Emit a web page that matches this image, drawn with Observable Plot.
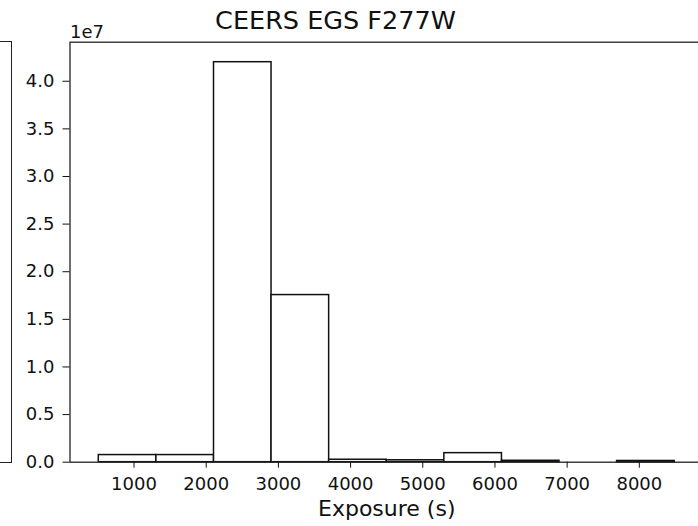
<!DOCTYPE html>
<html>
<head>
<meta charset="utf-8">
<script src="https://cdn.jsdelivr.net/npm/d3@7"></script>
<script src="https://cdn.jsdelivr.net/npm/@observablehq/plot@0.6"></script>
<style>
  html, body { margin: 0; padding: 0; background: #fff; }
  #wrap { position: relative; width: 698px; height: 526px; overflow: hidden; font-family: "DejaVu Sans", sans-serif; color: #111; }
  #title { position: absolute; left: 0; width: 671px; top: 8px; text-align: center; font-size: 25.5px; line-height: 24px; white-space: nowrap; }
  #neighbor { position: absolute; left: -20px; top: 41px; width: 30px; height: 419.5px; border: 1.3px solid #222; }
  #chart { position: absolute; left: 0; top: 0; width: 703px; }
  #chart svg { max-width: none !important; width: 703px; height: 526px; }
</style>
</head>
<body>
<div id="wrap">
  <div id="neighbor"></div>
  <div id="chart"></div>
  <div id="title"></div>
</div>
<script>
const titleText = "CEERS EGS F277W";
const xLabel = "Exposure (s)";
const offsetText = "1e7";
const binEdges = [512, 1310, 2108, 2905, 3703, 4501, 5299, 6097, 6894, 7692, 8490];
const counts = [7.5e5, 7.5e5, 4.2e7, 1.755e7, 2.6e5, 2.0e5, 9.5e5, 1.5e5, 0, 1.3e5];
const xTicks = [1000, 2000, 3000, 4000, 5000, 6000, 7000, 8000];
const yTicks = [0, 0.5e7, 1.0e7, 1.5e7, 2.0e7, 2.5e7, 3.0e7, 3.5e7, 4.0e7];

const bins = counts.map((c, i) => ({x0: binEdges[i], x1: binEdges[i + 1], count: c}));
const span = binEdges[binEdges.length - 1] - binEdges[0];
const xDomain = [binEdges[0] - 0.05 * span, binEdges[binEdges.length - 1] + 0.05 * span];
const yDomain = [0, d3.max(counts) * 1.05];

document.getElementById("title").textContent = titleText;

const chart = Plot.plot({
  width: 703,
  height: 526,
  marginLeft: 69.5,
  marginRight: 0,
  marginTop: 41.7,
  marginBottom: 64.3,
  style: {fontFamily: "DejaVu Sans, sans-serif", fontSize: "18px", color: "#111", background: "transparent", maxWidth: "none"},
  x: {domain: xDomain},
  y: {domain: yDomain},
  marks: [
    Plot.rect(bins.filter(d => d.count > 0), {x1: "x0", x2: "x1", y1: 0, y2: "count", fill: "white", stroke: "#111", strokeWidth: 1.5}),
    Plot.frame({stroke: "#222", strokeWidth: 1.3}),
    Plot.axisX({ticks: xTicks, tickSize: 6, tickPadding: 9, fontSize: 18, label: null, tickFormat: d => String(d)}),
    Plot.axisY({ticks: yTicks, tickSize: 7, tickPadding: 8.5, fontSize: 18, label: null, tickFormat: d => (d / 1e7).toFixed(1)}),
    Plot.text([offsetText], {frameAnchor: "top-left", text: d => d, textAnchor: "start", dx: 0, dy: -17, fontSize: 18, fill: "#111"}),
    Plot.text([xLabel], {frameAnchor: "bottom", text: d => d, dy: 54, fontSize: 22, fill: "#111"})
  ]
});
document.getElementById("chart").appendChild(chart);
</script>
</body>
</html>
